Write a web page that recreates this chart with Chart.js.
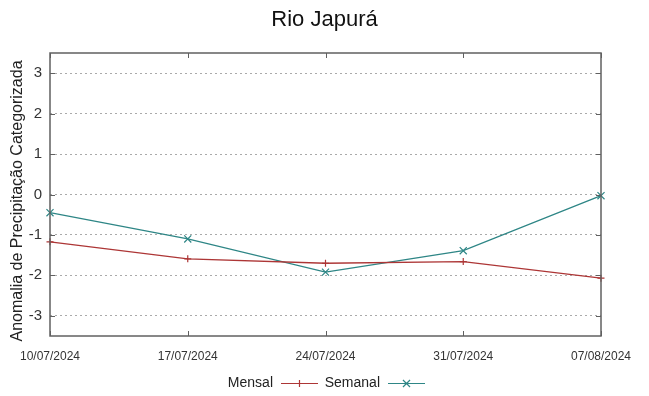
<!DOCTYPE html>
<html>
<head>
<meta charset="utf-8">
<script src="https://cdn.jsdelivr.net/npm/chart.js@4"></script>
<style>
  html, body { margin: 0; padding: 0; background: #fff; }
  #wrap { width: 649px; height: 396px; }
</style>
</head>
<body>
<div id="wrap"><canvas id="grafico" width="649" height="396"></canvas></div>
<script>
// dados
const datas = ['10/07/2024', '17/07/2024', '24/07/2024', '31/07/2024', '07/08/2024'];
const mensal = [-1.17, -1.59, -1.70, -1.66, -2.07];
const semanal = [-0.45, -1.10, -1.92, -1.39, -0.03];
const yTicks = [-3, -2, -1, 0, 1, 2, 3];

const corMensal = '#ad3636';
const corSemanal = '#2e8686';
const corBorda = '#606060';
const fonte = 'Liberation Sans, Arial, sans-serif';
const titulo = 'Rio Japurá';
const tituloY = 'Anomalia de Precipitação Categorizada';

// moldura, marcas internas, títulos e legenda no estilo gnuplot
const molduraPlugin = {
    id: 'moldura',
    afterDatasetsDraw(chart) {
        const ctx = chart.ctx;
        const a = chart.chartArea;
        const xs = chart.scales.x;
        const ys = chart.scales.y;
        ctx.save();
        ctx.strokeStyle = corBorda;
        ctx.lineWidth = 1.5;
        ctx.strokeRect(a.left, a.top, a.right - a.left, a.bottom - a.top);
        ctx.lineWidth = 1;
        ctx.beginPath();
        xs.ticks.forEach((t, i) => {
            const px = Math.round(xs.getPixelForTick(i)) + 0.5;
            ctx.moveTo(px, a.bottom); ctx.lineTo(px, a.bottom - 5);
            ctx.moveTo(px, a.top); ctx.lineTo(px, a.top + 5);
        });
        ys.ticks.forEach(t => {
            const py = Math.round(ys.getPixelForValue(t.value)) + 0.5;
            ctx.moveTo(a.left, py); ctx.lineTo(a.left + 5, py);
            ctx.moveTo(a.right, py); ctx.lineTo(a.right - 5, py);
        });
        ctx.stroke();
        ctx.restore();
    },
    afterDraw(chart) {
        const ctx = chart.ctx;
        ctx.save();
        // título centrado na figura inteira
        ctx.font = '22px ' + fonte;
        ctx.fillStyle = '#111';
        ctx.textAlign = 'center';
        ctx.textBaseline = 'middle';
        ctx.fillText(titulo, chart.width / 2, 20);

        // título do eixo y
        ctx.save();
        ctx.translate(18, 201);
        ctx.rotate(-Math.PI / 2);
        ctx.font = '16px ' + fonte;
        ctx.fillStyle = '#222';
        ctx.fillText(tituloY, 0, 0);
        ctx.restore();

        const y = 383;
        ctx.font = '14px ' + fonte;
        ctx.textAlign = 'right';
        const itens = [
            { texto: 'Mensal', fim: 273, cor: corMensal, estilo: 'cross' },
            { texto: 'Semanal', fim: 380, cor: corSemanal, estilo: 'crossRot' }
        ];
        itens.forEach(it => {
            ctx.fillStyle = '#222';
            ctx.fillText(it.texto, it.fim, y);
            const x0 = it.fim + 8, x1 = it.fim + 45;
            ctx.strokeStyle = it.cor;
            ctx.lineWidth = 1.2;
            ctx.beginPath();
            ctx.moveTo(x0, y + 0.5); ctx.lineTo(x1, y + 0.5);
            ctx.stroke();
            Chart.helpers.drawPoint(ctx, {
                pointStyle: it.estilo,
                radius: it.estilo === 'cross' ? 3.5 : 5,
                borderWidth: 1.2
            }, (x0 + x1) / 2, y + 0.5);
        });
        ctx.restore();
    }
};

new Chart(document.getElementById('grafico'), {
    type: 'line',
    data: {
        labels: datas,
        datasets: [
            {
                label: 'Mensal',
                data: mensal,
                borderColor: corMensal,
                backgroundColor: corMensal,
                borderWidth: 1.3,
                pointStyle: 'cross',
                pointRadius: 3.5,
                pointBorderWidth: 1.2,
                tension: 0
            },
            {
                label: 'Semanal',
                data: semanal,
                borderColor: corSemanal,
                backgroundColor: corSemanal,
                borderWidth: 1.3,
                pointStyle: 'crossRot',
                pointRadius: 5,
                pointBorderWidth: 1.2,
                tension: 0
            }
        ]
    },
    options: {
        responsive: false,
        animation: false,
        layout: { padding: { left: 0, right: 48, top: 53, bottom: 30 } },
        scales: {
            x: {
                type: 'category',
                offset: false,
                grid: { display: false, drawTicks: false, tickLength: 0 },
                border: { display: false },
                ticks: {
                    padding: 13,
                    maxRotation: 0,
                    autoSkip: false,
                    color: '#333',
                    font: { family: fonte, size: 12 }
                },
                afterFit(scale) { scale.height = 30; }
            },
            y: {
                min: -3.5,
                max: 3.5,
                afterBuildTicks(scale) {
                    scale.ticks = yTicks.map(v => ({ value: v }));
                },
                grid: {
                    color: '#aaaaaa',
                    lineWidth: 1,
                    drawTicks: false,
                    tickLength: 0
                },
                border: { display: false, dash: [2, 3] },
                ticks: {
                    padding: 8,
                    color: '#333',
                    font: { family: fonte, size: 15 }
                },
                afterFit(scale) { scale.width = 50; }
            }
        },
        plugins: {
            legend: { display: false },
            tooltip: { enabled: false },
            title: { display: false }
        }
    },
    plugins: [molduraPlugin]
});
</script>
</body>
</html>
